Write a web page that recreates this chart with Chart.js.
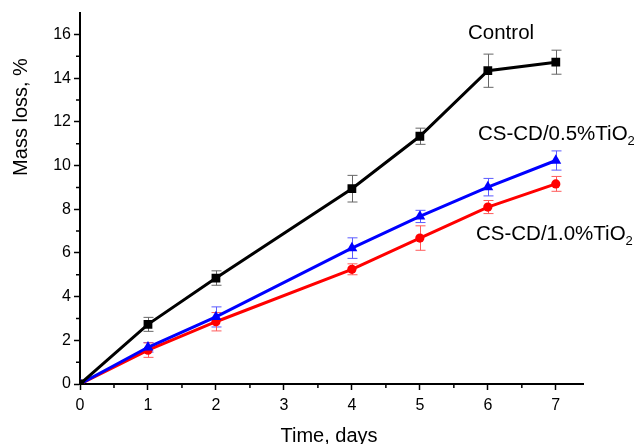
<!DOCTYPE html>
<html>
<head>
<meta charset="utf-8">
<script src="https://cdn.jsdelivr.net/npm/chart.js@4"></script>
<style>
  html, body { margin: 0; padding: 0; background: #fff; }
  #wrap { width: 634px; height: 444px; }
</style>
</head>
<body>
<div id="wrap"><canvas id="chart" width="634" height="444"></canvas></div>
<script>
// Data
const days = [0, 1, 2, 4, 5, 6, 7];

const controlLoss = [0, 2.73, 4.85, 8.94, 11.34, 14.34, 14.73];
const controlErr  = [0, 0.32, 0.33, 0.61, 0.37, 0.76, 0.55];

const tio05Loss = [0, 1.68, 3.07, 6.22, 7.67, 9.01, 10.23];
const tio05Err  = [0, 0.22, 0.46, 0.47, 0.28, 0.40, 0.44];

const tio10Loss = [0, 1.55, 2.85, 5.25, 6.68, 8.10, 9.16];
const tio10Err  = [0, 0.33, 0.42, 0.25, 0.56, 0.30, 0.34];

const xTicks = [0, 1, 2, 3, 4, 5, 6, 7];
const yTicks = [0, 2, 4, 6, 8, 10, 12, 14, 16];

const FONT = '"Liberation Sans", Arial, sans-serif';

function toPoints(xs, ys) {
  return xs.map((x, i) => ({ x, y: ys[i] }));
}

// error bars, drawn under the lines
const errorBars = {
  id: 'errorBars',
  beforeDatasetsDraw(chart) {
    const ctx = chart.ctx;
    const xs = chart.scales.x, ys = chart.scales.y;
    chart.data.datasets.forEach(ds => {
      ctx.save();
      ctx.strokeStyle = ds.errColor;
      ctx.lineWidth = 1;
      ds.data.forEach((p, i) => {
        const e = ds.errors[i];
        if (!e) return;
        const px = Math.round(xs.getPixelForValue(p.x)) + 0.5;
        const top = ys.getPixelForValue(p.y + e);
        const bot = ys.getPixelForValue(p.y - e);
        ctx.beginPath();
        ctx.moveTo(px, top); ctx.lineTo(px, bot);
        ctx.moveTo(px - 5, top); ctx.lineTo(px + 5, top);
        ctx.moveTo(px - 5, bot); ctx.lineTo(px + 5, bot);
        ctx.stroke();
      });
      ctx.restore();
    });
  }
};

// minor ticks, axis titles and series labels
const decorations = {
  id: 'decorations',
  afterDraw(chart) {
    const ctx = chart.ctx;
    const xs = chart.scales.x, ys = chart.scales.y;
    const area = chart.chartArea;
    ctx.save();
    ctx.strokeStyle = '#000';
    ctx.lineWidth = 1.5;
    ctx.beginPath();
    for (let v = 0.5; v < 7.4; v += 1) {
      const px = xs.getPixelForValue(v);
      ctx.moveTo(px, area.bottom); ctx.lineTo(px, area.bottom + 4);
    }
    for (let v = 1; v < 17; v += 2) {
      const py = ys.getPixelForValue(v);
      ctx.moveTo(area.left, py); ctx.lineTo(area.left - 4, py);
    }
    ctx.stroke();

    ctx.fillStyle = '#000';
    ctx.font = '20px ' + FONT;
    ctx.textAlign = 'center';
    ctx.textBaseline = 'alphabetic';
    ctx.fillText('Time, days', 329, 442);

    ctx.save();
    ctx.translate(27, 117);
    ctx.rotate(-Math.PI / 2);
    ctx.fillText('Mass loss, %', 0, 0);
    ctx.restore();

    ctx.textAlign = 'left';
    ctx.font = '20.5px ' + FONT;
    ctx.fillText('Control', 468, 39);
    drawSub(ctx, 'CS-CD/0.5%TiO', '2', 478, 140);
    drawSub(ctx, 'CS-CD/1.0%TiO', '2', 476, 240);
    ctx.restore();
  }
};

function drawSub(ctx, main, sub, x, y) {
  ctx.font = '20.5px ' + FONT;
  ctx.fillText(main, x, y);
  const w = ctx.measureText(main).width;
  ctx.font = '13px ' + FONT;
  ctx.fillText(sub, x + w, y + 5);
  ctx.font = '20.5px ' + FONT;
}

const lineDefaults = {
  borderWidth: 3,
  tension: 0,
  fill: false,
  pointBorderWidth: 0,
};

new Chart(document.getElementById('chart'), {
  type: 'line',
  data: {
    datasets: [
      {
        ...lineDefaults,
        label: 'Control',
        data: toPoints(days, controlLoss),
        errors: controlErr,
        errColor: '#666',
        borderColor: '#000',
        backgroundColor: '#000',
        pointStyle: 'rect',
        pointRadius: 6.2,
        order: 0,
      },
      {
        ...lineDefaults,
        label: 'CS-CD/0.5%TiO2',
        data: toPoints(days, tio05Loss),
        errors: tio05Err,
        errColor: '#5b5bff',
        borderColor: '#0000ff',
        backgroundColor: '#0000ff',
        pointStyle: 'triangle',
        pointRadius: 6.3,
        order: 1,
      },
      {
        ...lineDefaults,
        label: 'CS-CD/1.0%TiO2',
        data: toPoints(days, tio10Loss),
        errors: tio10Err,
        errColor: '#ff5b5b',
        borderColor: '#ff0000',
        backgroundColor: '#ff0000',
        pointStyle: 'circle',
        pointRadius: 4.6,
        order: 2,
      },
    ],
  },
  options: {
    responsive: false,
    animation: false,
    layout: { padding: { top: 12, right: 51, left: 0, bottom: 0 } },
    plugins: {
      legend: { display: false },
      tooltip: { enabled: false },
    },
    scales: {
      x: {
        type: 'linear',
        min: 0,
        max: 7.4,
        afterFit: (s) => { s.height = 60; },
        afterBuildTicks: (s) => { s.ticks = xTicks.map(v => ({ value: v })); },
        ticks: { color: '#000', font: { family: FONT, size: 16 }, padding: 6 },
        grid: { drawOnChartArea: false, tickLength: 6, tickColor: '#000', tickWidth: 1.5 },
        border: { color: '#000', width: 2 },
      },
      y: {
        min: 0,
        max: 17,
        afterFit: (s) => { s.width = 80; },
        afterBuildTicks: (s) => { s.ticks = yTicks.map(v => ({ value: v })); },
        ticks: { color: '#000', font: { family: FONT, size: 16 }, padding: 3 },
        grid: { drawOnChartArea: false, tickLength: 6, tickColor: '#000', tickWidth: 1.5 },
        border: { color: '#000', width: 2 },
      },
    },
  },
  plugins: [errorBars, decorations],
});
</script>
</body>
</html>
